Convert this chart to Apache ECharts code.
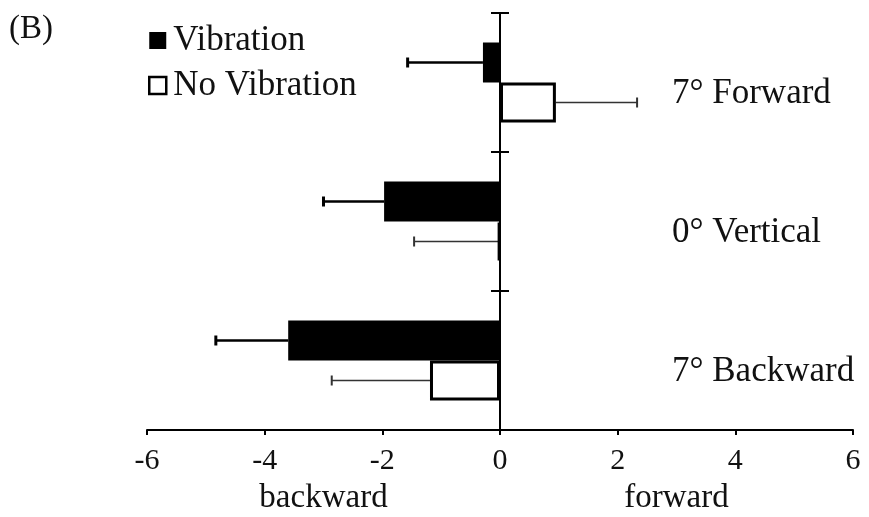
<!DOCTYPE html>
<html>
<head>
<meta charset="utf-8">
<script src="https://cdn.jsdelivr.net/npm/echarts@6/dist/echarts.min.js"></script>
<style>
html,body{margin:0;padding:0;background:#fff;}
#chart{width:869px;height:517px;}
</style>
</head>
<body>
<div id="chart"></div>
<script>
// ---- data ----
var categories = ['7° Forward', '0° Vertical', '7° Backward'];
var seriesNames = ['Vibration', 'No Vibration'];
var vibrationMean = [-0.29, -1.97, -3.60];
var vibrationErr = [1.28, 1.03, 1.23];
var noVibrationMean = [0.95, -0.03, -1.19];
var noVibrationErr = [1.38, 1.43, 1.67];
var xTicks = [-6, -4, -2, 0, 2, 4, 6];
var sideLabels = ['backward', 'forward'];
var sideLabelValues = [-3, 3];
var panelLabel = '(B)';

var FONT = 'Liberation Serif';
var BAR_W = 40;

function errData(means, errs) {
  return means.map(function (m, i) {
    var dir = m < 0 ? -1 : 1;
    return [i, m, m + dir * errs[i]];
  });
}

function makeErrRender(seriesIdx, lineW, capW, color) {
  return function (params, api) {
    var cat = api.value(0);
    var p0 = api.coord([api.value(1), cat]);
    var p1 = api.coord([api.value(2), cat]);
    var off = (seriesIdx === 0 ? -1 : 1) * BAR_W / 2;
    var y = p0[1] + off;
    return {
      type: 'group',
      children: [
        { type: 'line', shape: { x1: p0[0], y1: y, x2: p1[0], y2: y }, style: { stroke: color, lineWidth: lineW } },
        { type: 'line', shape: { x1: p1[0], y1: y - 5, x2: p1[0], y2: y + 5 }, style: { stroke: color, lineWidth: capW } }
      ]
    };
  };
}

var chart = echarts.init(document.getElementById('chart'));
chart.setOption({
  backgroundColor: '#fff',
  animation: false,
  title: {
    text: panelLabel, left: 4, top: 8,
    textStyle: { fontFamily: FONT, fontSize: 33, fontWeight: 'normal', color: '#111' }
  },
  legend: {
    orient: 'vertical', left: 143, top: 18,
    itemWidth: 17, itemHeight: 17, itemGap: 10,
    textStyle: { fontFamily: FONT, fontSize: 35, color: '#111', padding: [0, 0, 0, 2] },
    data: [
      { name: seriesNames[0], icon: 'rect', itemStyle: { color: '#000', borderWidth: 0 } },
      { name: seriesNames[1], icon: 'rect', itemStyle: { color: '#fff', borderColor: '#000', borderWidth: 2.5 } }
    ]
  },
  grid: { left: 147, right: 16, top: 13, bottom: 87, containLabel: false, outerBoundsMode: 'none' },
  xAxis: [
    {
      type: 'value', min: xTicks[0], max: xTicks[xTicks.length - 1], interval: 2,
      axisLine: { show: true, lineStyle: { color: '#000', width: 2 } },
      axisTick: { show: true, length: 5, lineStyle: { color: '#000', width: 2 } },
      splitLine: { show: false },
      axisLabel: { fontFamily: FONT, fontSize: 30, color: '#111', margin: 16 }
    },
    {
      type: 'value', min: xTicks[0], max: xTicks[xTicks.length - 1], position: 'bottom',
      axisLine: { show: false }, axisTick: { show: false }, splitLine: { show: false },
      axisLabel: {
        customValues: sideLabelValues, margin: 52,
        fontFamily: FONT, fontSize: 33, color: '#111',
        formatter: function (v) { return v < 0 ? sideLabels[0] : sideLabels[1]; }
      }
    }
  ],
  yAxis: [
    {
      type: 'category', data: categories, inverse: true, position: 'left',
      axisLine: { show: true, onZero: true, onZeroAxisIndex: 0, lineStyle: { color: '#000', width: 2 } },
      axisTick: { show: true, length: 9, lineStyle: { color: '#000', width: 2 } },
      axisLabel: { show: false }
    },
    {
      type: 'category', data: categories, inverse: true, position: 'right',
      axisLine: { show: false, onZero: true, onZeroAxisIndex: 0 },
      axisTick: { show: true, length: 9, lineStyle: { color: '#000', width: 2 } },
      axisLabel: { show: false }
    },
    {
      type: 'category', data: categories, inverse: true, position: 'right',
      axisLine: { show: false, onZero: false },
      axisTick: { show: false },
      axisLabel: {
        show: true, margin: -181, align: 'left', verticalAlign: 'top', lineHeight: 22,
        fontFamily: FONT, fontSize: 35, color: '#111'
      }
    }
  ],
  series: [
    {
      name: seriesNames[0], type: 'bar', data: vibrationMean, barWidth: BAR_W, barGap: '0%',
      itemStyle: { color: '#000' }
    },
    {
      name: seriesNames[1], type: 'bar', data: noVibrationMean, barWidth: BAR_W, barGap: '0%',
      itemStyle: { color: '#fff', borderColor: '#000', borderWidth: 3 }
    },
    {
      type: 'custom', name: 'errV', data: errData(vibrationMean, vibrationErr),
      renderItem: makeErrRender(0, 2.5, 3, '#000'), z: 1
    },
    {
      type: 'custom', name: 'errN', data: errData(noVibrationMean, noVibrationErr),
      renderItem: makeErrRender(1, 1.5, 2, '#333'), z: 1
    }
  ]
});
</script>
</body>
</html>
